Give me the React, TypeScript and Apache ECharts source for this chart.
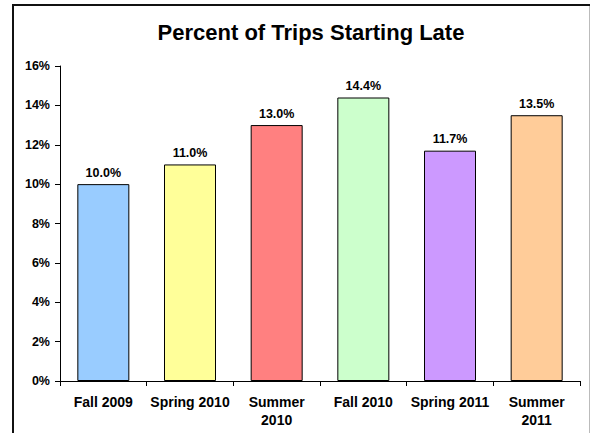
import React, { useEffect, useRef } from "react";
import * as echarts from "echarts";

const categories = ["Fall 2009", "Spring 2010", "Summer\n2010", "Fall 2010", "Spring 2011", "Summer\n2011"];
const values = [10.0, 11.0, 13.0, 14.4, 11.7, 13.5];
const barColors = ["#99CCFF", "#FFFF99", "#FF8080", "#CCFFCC", "#CC99FF", "#FFCC99"];
const titleText = "Percent of Trips Starting Late";

export default function App() {
  const ref = useRef<HTMLDivElement>(null);
  useEffect(() => {
    const chart = echarts.init(ref.current!, null, { renderer: "svg" });
    const font = "'Liberation Sans', Arial, sans-serif";
    chart.setOption({
      animation: false,
      backgroundColor: "#ffffff",
      title: {
        text: titleText,
        left: 306,
        textAlign: "center",
        top: 16,
        textStyle: { fontFamily: font, fontSize: 22, fontWeight: "bold", color: "#000" },
      },
      graphic: [
        { type: "line", shape: { x1: 12, y1: 5, x2: 590, y2: 5 }, style: { stroke: "#111", lineWidth: 2 } },
        { type: "line", shape: { x1: 13, y1: 4, x2: 13, y2: 433 }, style: { stroke: "#111", lineWidth: 2 } },
        { type: "line", shape: { x1: 589.5, y1: 6, x2: 589.5, y2: 433 }, style: { stroke: "#bbb", lineWidth: 1 } },
      ],
      grid: { left: 60, right: 10, top: 66, bottom: 52 },
      xAxis: {
        type: "category",
        data: categories,
        axisLine: { lineStyle: { color: "#000", width: 1 } },
        axisTick: { show: true, length: 5, lineStyle: { color: "#000" } },
        axisLabel: {
          fontFamily: font,
          fontSize: 14,
          fontWeight: "bold",
          color: "#000",
          margin: 12,
          lineHeight: 18,
          interval: 0,
        },
      },
      yAxis: {
        type: "value",
        min: 0,
        max: 16,
        interval: 2,
        axisLine: { show: true, lineStyle: { color: "#000", width: 1 } },
        axisTick: { show: true, length: 5, inside: false, lineStyle: { color: "#000" } },
        splitLine: { show: false },
        axisLabel: {
          fontFamily: font,
          fontSize: 12.5,
          fontWeight: "bold",
          color: "#000",
          margin: 10,
          formatter: (v: number) => `${v}%`,
        },
      },
      series: [
        {
          type: "bar",
          barWidth: "60%",
          data: values.map((v, i) => ({
            value: v,
            itemStyle: { color: barColors[i], borderColor: "#000", borderWidth: 1 },
          })),
          label: {
            show: true,
            position: "top",
            distance: 5,
            fontFamily: font,
            fontSize: 12.5,
            fontWeight: "bold",
            color: "#000",
            formatter: (p: any) => `${p.value.toFixed(1)}%`,
          },
        },
      ],
    });
    return () => chart.dispose();
  }, []);
  return <div ref={ref} style={{ position: "fixed", left: 0, top: 0, width: 590, height: 433 }} />;
}
